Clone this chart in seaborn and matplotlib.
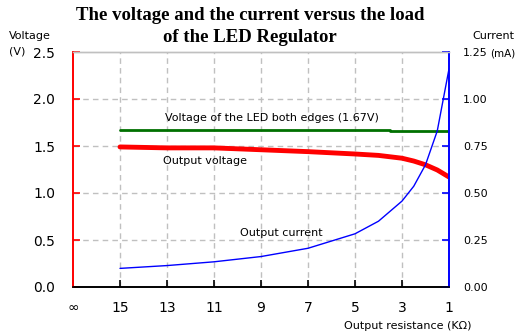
import matplotlib
matplotlib.use("Agg")
import matplotlib.pyplot as plt
import seaborn as sns
import pandas as pd

# Data
resistance_kohm = [15, 13, 11, 9, 7, 5, 4, 3, 2.5, 2, 1.5, 1]
output_voltage = [1.49, 1.48, 1.48, 1.46, 1.44, 1.415, 1.40, 1.37, 1.34, 1.30, 1.245, 1.17]
output_current = [0.099, 0.114, 0.134, 0.162, 0.206, 0.283, 0.35, 0.457, 0.536, 0.65, 0.83, 1.16]
led_resistance = [15, 3.5, 3.5, 1]
led_voltage = [1.67, 1.67, 1.66, 1.66]
x_ticks = [17, 15, 13, 11, 9, 7, 5, 3, 1]
x_tick_labels = ["∞", "15", "13", "11", "9", "7", "5", "3", "1"]
v_ticks = [0.0, 0.5, 1.0, 1.5, 2.0, 2.5]
i_ticks = [0.0, 0.25, 0.5, 0.75, 1.0, 1.25]

df_v = pd.DataFrame({"R": resistance_kohm, "V": output_voltage})
df_i = pd.DataFrame({"R": resistance_kohm, "I": output_current})
df_led = pd.DataFrame({"R": led_resistance, "V": led_voltage})

sns.set_style("white")
plt.rcParams["font.family"] = ["DejaVu Sans"]
plt.rcParams["text.color"] = "black"
plt.rcParams["xtick.labelcolor"] = "black"
plt.rcParams["ytick.labelcolor"] = "black"

fig = plt.figure(figsize=(5.18, 3.36), dpi=100)
ax = fig.add_axes([73/518, 49/336, 376/518, 235/336])
ax2 = ax.twinx()

sns.lineplot(data=df_led, x="R", y="V", ax=ax, color="#007000", linewidth=2, estimator=None, sort=False)
sns.lineplot(data=df_v, x="R", y="V", ax=ax, color="#ff0000", linewidth=3.5, estimator=None)
sns.lineplot(data=df_i, x="R", y="I", ax=ax2, color="#0000ff", linewidth=1, estimator=None)

ax.set_xlim(17, 1)
ax.set_ylim(0, 2.5)
ax2.set_ylim(0, 1.25)
ax.set_xticks(x_ticks)
ax.set_xticklabels(x_tick_labels, fontsize=10, color="black")
ax.set_yticks(v_ticks)
ax.set_yticklabels([f"{v:.1f}" for v in v_ticks], fontsize=10, color="black")
ax2.set_yticks(i_ticks)
ax2.set_yticklabels([f"{v:.2f}" for v in i_ticks], fontsize=8, color="black")
ax.set_xlabel("")
ax.set_ylabel("")
ax2.set_ylabel("")

# grid
for xv in x_ticks[1:]:
    ax.axvline(xv, color="#c0c0c0", linestyle=(0, (4, 3)), linewidth=1, zorder=0)
for yv in v_ticks[1:-1]:
    ax.axhline(yv, color="#c0c0c0", linestyle=(0, (4, 3)), linewidth=1, zorder=0)

# spines
for a in (ax, ax2):
    a.spines["top"].set_color("#c0c0c0")
    a.spines["top"].set_linewidth(1)
    a.spines["bottom"].set_color("black")
    a.spines["bottom"].set_linewidth(1.2)
    a.spines["left"].set_color("#ff0000")
    a.spines["right"].set_color("#0000ff")
    a.spines["left"].set_linewidth(1.2)
    a.spines["right"].set_linewidth(1.2)

ax.tick_params(axis="y", direction="in", length=5, color="#ff0000", width=1.2, pad=13, left=True)
ax.tick_params(axis="x", direction="in", length=5, color="black", width=1.2, pad=10, bottom=True)
ax2.tick_params(axis="y", direction="in", length=5, color="#0000ff", width=1.2, pad=10, right=True)

# annotations
ax.text(13.1, 1.80, "Voltage of the LED both edges (1.67V)", fontsize=8, ha="left", va="center", color="black")
ax.text(13.17, 1.34, "Output voltage", fontsize=8, ha="left", va="center", color="black")
ax.text(9.9, 0.575, "Output current", fontsize=8, ha="left", va="center", color="black")

fig.text(9/518, 1 - 36/336, "Voltage", fontsize=8, ha="left", va="center")
fig.text(9/518, 1 - 52/336, "(V)", fontsize=8, ha="left", va="center")
fig.text(514/518, 1 - 36/336, "Current", fontsize=8, ha="right", va="center")
fig.text(515/518, 1 - 53/336, "(mA)", fontsize=7.5, ha="right", va="center")
fig.text(472/518, 1 - 326/336, "Output resistance (KΩ)", fontsize=8, ha="right", va="center")

fig.text(250/518, 1 - 16/336, "The voltage and the current versus the load",
         fontsize=13.5, fontweight="bold", family="Liberation Serif", ha="center", va="center")
fig.text(250/518, 1 - 38/336, "of the LED Regulator",
         fontsize=13.5, fontweight="bold", family="Liberation Serif", ha="center", va="center")

fig.savefig("out.png", dpi=100)
